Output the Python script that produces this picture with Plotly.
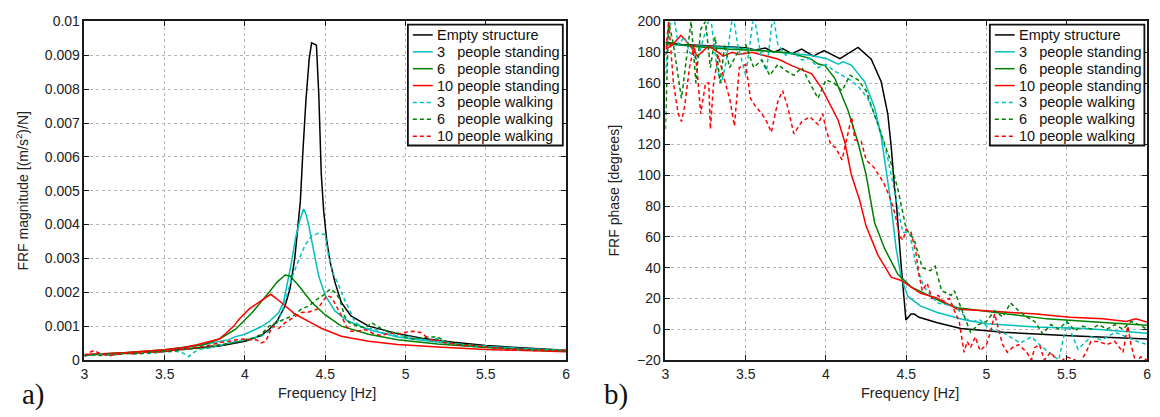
import plotly.graph_objects as go

# ---------------- Magnitude data (a) ----------------
f_mag_empty = [3.0, 3.25, 3.5, 3.7, 3.85, 4.0, 4.1, 4.15, 4.2, 4.25, 4.28, 4.31, 4.33, 4.345, 4.36, 4.38, 4.4,
               4.415, 4.445, 4.46, 4.475, 4.49, 4.51, 4.53, 4.56, 4.6, 4.66, 4.77, 4.93, 5.1, 5.3, 5.5, 5.75, 6.0]
mag_empty = [0.00015, 0.0002, 0.00027, 0.00035, 0.00042, 0.00055, 0.00072, 0.0009, 0.00115, 0.0016, 0.0021,
             0.003, 0.0039, 0.0047, 0.0061, 0.0077, 0.0089, 0.00937, 0.0093, 0.0078, 0.0055, 0.0044, 0.0035,
             0.0029, 0.0023, 0.0017, 0.0013, 0.001, 0.0008, 0.00064, 0.00052, 0.00043, 0.00035, 0.00029]

f_mag_s3 = [3.0, 3.25, 3.5, 3.74, 3.9, 3.94, 4.0, 4.045, 4.1, 4.15, 4.21, 4.24, 4.26, 4.29, 4.315, 4.34, 4.365,
            4.38, 4.396, 4.427, 4.458, 4.5, 4.56, 4.64, 4.77, 4.95, 5.1, 5.3, 5.5, 5.75, 6.0]
mag_s3 = [0.00015, 0.0002, 0.00028, 0.00045, 0.0006, 0.00069, 0.00076, 0.00085, 0.00098, 0.00113, 0.0014, 0.0017,
          0.00216, 0.0029, 0.0036, 0.0041, 0.00446, 0.0043, 0.004, 0.0032, 0.0025, 0.0019, 0.00145, 0.00115,
          0.0009, 0.00068, 0.00058, 0.00048, 0.0004, 0.00033, 0.00029]

f_mag_s6 = [3.0, 3.25, 3.5, 3.74, 3.84, 3.94, 4.045, 4.1, 4.15, 4.2, 4.25, 4.28, 4.334, 4.416, 4.5, 4.6, 4.77,
            4.95, 5.2, 5.5, 5.75, 6.0]
mag_s6 = [0.00015, 0.00021, 0.0003, 0.00045, 0.00062, 0.0009, 0.0014, 0.0017, 0.002, 0.0023, 0.00251, 0.00248,
          0.0022, 0.0017, 0.00133, 0.001, 0.00076, 0.0006, 0.00047, 0.00037, 0.00031, 0.00028]

f_mag_s10 = [3.0, 3.25, 3.5, 3.61, 3.7, 3.78, 3.84, 3.88, 3.93, 3.963, 4.025, 4.07, 4.107, 4.16, 4.2, 4.23, 4.27,
             4.313, 4.396, 4.478, 4.6, 4.77, 4.95, 5.2, 5.5, 5.75, 6.0]
mag_s10 = [0.00016, 0.00021, 0.0003, 0.00036, 0.00045, 0.00055, 0.00062, 0.00078, 0.001, 0.0012, 0.0015,
           0.00165, 0.00178, 0.00194, 0.0018, 0.00168, 0.0015, 0.00135, 0.00114, 0.00093, 0.0007, 0.00055,
           0.00046, 0.00038, 0.00031, 0.00027, 0.00024]

f_mag_w3 = [3.0, 3.05, 3.1, 3.15, 3.2, 3.25, 3.3, 3.35, 3.4, 3.45, 3.5, 3.55, 3.6, 3.65, 3.68, 3.72, 3.78, 3.85,
            3.9, 3.95, 4.0, 4.05, 4.1, 4.15, 4.2, 4.23, 4.29, 4.33, 4.375, 4.416, 4.458, 4.5, 4.52, 4.55, 4.58,
            4.62, 4.65, 4.684, 4.72, 4.76, 4.8, 4.85, 4.9, 4.95, 5.0, 5.05, 5.1, 5.15, 5.2, 5.25, 5.3, 5.35, 5.4,
            5.45, 5.5, 5.55, 5.6, 5.65, 5.7, 5.75, 5.8, 5.85, 5.9, 5.95, 6.0]
mag_w3 = [0.00012, 0.00015, 0.00018, 0.00014, 0.00016, 0.0002, 0.00017, 0.0002, 0.00019, 0.00022, 0.00024,
          0.00026, 0.00024, 0.0001, 0.00022, 0.00032, 0.00035, 0.00045, 0.0005, 0.00055, 0.00058, 0.00065,
          0.0007, 0.00085, 0.0011, 0.0014, 0.0024, 0.0029, 0.0034, 0.00367, 0.00374, 0.0037, 0.0031, 0.00254,
          0.00225, 0.00178, 0.0015, 0.00112, 0.001, 0.0009, 0.00095, 0.0008, 0.0008, 0.0007, 0.00072, 0.00065,
          0.00062, 0.00058, 0.00064, 0.00052, 0.00048, 0.00045, 0.00042, 0.0004, 0.00042, 0.00036, 0.00035,
          0.00038, 0.0003, 0.00032, 0.00028, 0.00031, 0.00027, 0.0003, 0.00028]

f_mag_w6 = [3.0, 3.05, 3.1, 3.15, 3.2, 3.25, 3.3, 3.35, 3.4, 3.45, 3.5, 3.55, 3.6, 3.65, 3.7, 3.75, 3.8, 3.85,
            3.9, 3.95, 4.0, 4.05, 4.1, 4.15, 4.2, 4.25, 4.3, 4.35, 4.4, 4.45, 4.5, 4.53, 4.56, 4.59, 4.62, 4.65,
            4.7, 4.75, 4.79, 4.82, 4.86, 4.9, 4.95, 5.0, 5.05, 5.1, 5.15, 5.2, 5.25, 5.3, 5.35, 5.4, 5.45, 5.5,
            5.55, 5.6, 5.65, 5.7, 5.75, 5.8, 5.85, 5.9, 5.95, 6.0]
mag_w6 = [0.00014, 0.00016, 0.00013, 0.00018, 0.00015, 0.00019, 0.0002, 0.00018, 0.00022, 0.00024, 0.00026,
          0.00025, 0.0003, 0.00032, 0.00035, 0.00036, 0.00042, 0.00045, 0.0005, 0.00052, 0.0006, 0.00065,
          0.00075, 0.001, 0.0011, 0.00122, 0.0013, 0.0015, 0.0016, 0.0018, 0.00195, 0.0021, 0.002, 0.0018,
          0.0013, 0.0011, 0.001, 0.00095, 0.0011, 0.001, 0.0009, 0.00082, 0.0008, 0.00068, 0.00062, 0.00065,
          0.00068, 0.00068, 0.00055, 0.00048, 0.00045, 0.00045, 0.0004, 0.00038, 0.00036, 0.00034, 0.00033,
          0.00033, 0.0003, 0.0003, 0.00028, 0.00029, 0.00027, 0.00026]

f_mag_w10 = [3.0, 3.03, 3.06, 3.1, 3.15, 3.2, 3.25, 3.3, 3.35, 3.4, 3.45, 3.5, 3.55, 3.6, 3.65, 3.7, 3.75, 3.8,
             3.85, 3.9, 3.95, 4.0, 4.03, 4.07, 4.1, 4.13, 4.17, 4.21, 4.25, 4.3, 4.35, 4.4, 4.45, 4.48, 4.51,
             4.54, 4.57, 4.6, 4.63, 4.66, 4.7, 4.75, 4.8, 4.85, 4.9, 4.95, 5.0, 5.05, 5.1, 5.15, 5.2, 5.25, 5.3,
             5.35, 5.4, 5.45, 5.5, 5.55, 5.6, 5.65, 5.7, 5.75, 5.8, 5.85, 5.9, 5.95, 6.0]
mag_w10 = [0.0001, 0.00022, 0.00028, 0.00018, 0.00012, 0.00016, 0.0002, 0.00018, 0.00022, 0.00024, 0.00022,
           0.00025, 0.00028, 0.0003, 0.00034, 0.00036, 0.0004, 0.00046, 0.00052, 0.00055, 0.0006, 0.00062,
           0.0006, 0.0006, 0.0005, 0.00055, 0.001, 0.00093, 0.0011, 0.00125, 0.0014, 0.00142, 0.0015, 0.0017,
           0.0019, 0.00185, 0.0016, 0.00131, 0.001, 0.00085, 0.00085, 0.0009, 0.00078, 0.00072, 0.0008,
           0.00075, 0.00082, 0.00085, 0.0008, 0.0006, 0.00058, 0.0005, 0.00048, 0.00042, 0.00044, 0.0004,
           0.00038, 0.00036, 0.00035, 0.0003, 0.00033, 0.0003, 0.00028, 0.0003, 0.00026, 0.00028, 0.0003]

# ---------------- Phase data (b) ----------------
f_ph_empty = [3.0, 3.1, 3.2, 3.3, 3.4, 3.5, 3.56, 3.623, 3.674, 3.73, 3.787, 3.849, 3.921, 3.988, 4.087, 4.2,
              4.282, 4.344, 4.385, 4.406, 4.427, 4.437, 4.468, 4.488, 4.498, 4.53, 4.55, 4.58, 4.694, 4.84,
              5.107, 5.52, 6.0]
ph_empty = [186.5, 185, 184.5, 184, 183.5, 183, 181.5, 182.7, 180, 182.3, 179, 182, 177.5, 181, 175.8, 183.1,
            175.4, 160.8, 140, 119, 92, 83.7, 42, 15, 6, 9.8, 9.8, 7.7, 4.2, 0.4, -2, -4.2, -6.4]

f_ph_s3 = [3.0, 3.2, 3.4, 3.6, 3.8, 3.9, 4.0, 4.076, 4.107, 4.158, 4.241, 4.303, 4.344, 4.375, 4.396, 4.406,
           4.437, 4.468, 4.51, 4.59, 4.694, 4.86, 5.0, 5.31, 5.62, 5.8, 6.0]
ph_s3 = [185, 184, 183, 181, 179, 178, 176, 172.3, 173.8, 171.7, 160.8, 144, 125.4, 104.6, 88, 80, 52.5, 33.8,
         21.3, 15, 10.8, 6.2, 3.5, 1.4, 0.4, -1, -2.7]

f_ph_s6 = [3.0, 3.2, 3.4, 3.6, 3.767, 3.9, 3.952, 3.994, 4.056, 4.138, 4.2, 4.25, 4.303, 4.365, 4.447, 4.53,
           4.633, 4.736, 4.818, 5.065, 5.375, 5.68, 6.0]
ph_s6 = [186, 183.5, 182, 181, 179.6, 176, 172.3, 171.3, 162.9, 142, 121.3, 100.4, 69.2, 52.5, 35.8, 27.5, 22.3,
         17, 14, 10.8, 6.7, 4.6, 2.5]

f_ph_s10 = [3.0, 3.045, 3.097, 3.15, 3.2, 3.27, 3.334, 3.36, 3.416, 3.458, 3.54, 3.623, 3.705, 3.787, 3.87,
            3.911, 3.973, 4.035, 4.076, 4.118, 4.158, 4.21, 4.25, 4.323, 4.406, 4.468, 4.59, 4.694, 4.818, 5.0,
            5.31, 5.52, 5.725, 5.87, 5.93, 6.0]
ph_s10 = [182, 184.8, 191, 184.8, 177.5, 184.2, 179.6, 177.5, 180, 178.5, 180, 177.5, 175.4, 171.3, 167.5, 166,
          156.7, 144.2, 135.8, 121.3, 100.4, 83.8, 67, 48.3, 33.8, 31.7, 23.3, 20.2, 12.9, 11.9, 9.8, 7.7, 6.7,
          5, 6.7, 4.6]

f_ph_w3 = [3.0, 3.02, 3.05, 3.08, 3.12, 3.15, 3.2, 3.25, 3.28, 3.32, 3.35, 3.38, 3.42, 3.45, 3.5, 3.52, 3.55,
           3.6, 3.63, 3.67, 3.7, 3.75, 3.8, 3.85, 3.9, 3.95, 4.0, 4.05, 4.1, 4.15, 4.2, 4.26, 4.3, 4.344, 4.385,
           4.416, 4.447, 4.478, 4.52, 4.56, 4.61, 4.694, 4.8, 4.9, 4.96, 5.02, 5.1, 5.21, 5.28, 5.34, 5.45, 5.5,
           5.57, 5.65, 5.72, 5.8, 5.87, 5.94, 6.0]
ph_w3 = [165, 195, 205, 185, 190, 180, 175, 195, 205, 170, 160, 175, 205, 185, 165, 180, 205, 175, 168, 205,
         185, 178, 180, 175, 176, 170, 172, 168, 165, 162, 158, 150, 140, 127.5, 111, 96, 79.6, 63, 62.9, 42,
         27.5, 17, 15, 4.6, 6, 0, -2, -9, -5, -11, -20, 4.6, -13, -5, -7, -2, -5, -8, -10]

f_ph_w6 = [3.0, 3.02, 3.05, 3.08, 3.1, 3.13, 3.16, 3.19, 3.22, 3.25, 3.28, 3.31, 3.34, 3.37, 3.4, 3.45, 3.5,
           3.55, 3.6, 3.65, 3.7, 3.75, 3.8, 3.85, 3.9, 3.95, 4.0, 4.05, 4.1, 4.15, 4.2, 4.25, 4.3, 4.35, 4.4,
           4.45, 4.5, 4.55, 4.6, 4.65, 4.68, 4.72, 4.78, 4.8, 4.85, 4.9, 4.95, 5.0, 5.05, 5.1, 5.15, 5.2, 5.25,
           5.3, 5.35, 5.4, 5.45, 5.5, 5.55, 5.6, 5.65, 5.7, 5.75, 5.8, 5.85, 5.9, 5.95, 6.0]
ph_w6 = [130, 200, 185, 165, 150, 175, 200, 160, 195, 200, 170, 190, 160, 185, 170, 180, 185, 170, 175, 165,
         172, 168, 165, 170, 160, 150, 162, 160, 155, 165, 162, 155, 140, 125, 110, 90, 65, 58, 40, 38, 41, 25,
         22, 25, 12, -2, 3, 5, 12, 8, 17, 12, 8, 5, -3, 3, 0, 5, -1, 2, 0, 3, 0, 3, 0, 5, 3, 0]

f_ph_w10 = [3.0, 3.02, 3.05, 3.08, 3.1, 3.12, 3.15, 3.18, 3.2, 3.22, 3.25, 3.27, 3.28, 3.3, 3.33, 3.36, 3.4,
            3.43, 3.46, 3.5, 3.53, 3.56, 3.6, 3.63, 3.66, 3.7, 3.73, 3.76, 3.8, 3.85, 3.9, 3.95, 3.98, 4.0,
            4.03, 4.06, 4.1, 4.13, 4.16, 4.18, 4.22, 4.25, 4.3, 4.33, 4.36, 4.4, 4.43, 4.46, 4.48, 4.5, 4.53,
            4.56, 4.58, 4.6, 4.63, 4.66, 4.7, 4.73, 4.77, 4.8, 4.83, 4.86, 4.88, 4.9, 4.93, 4.96, 5.0, 5.03,
            5.05, 5.08, 5.1, 5.13, 5.16, 5.2, 5.25, 5.28, 5.3, 5.33, 5.36, 5.4, 5.45, 5.5, 5.55, 5.58, 5.62,
            5.65, 5.7, 5.75, 5.8, 5.85, 5.88, 5.9, 5.93, 5.96, 6.0]
ph_w10 = [178, 200, 160, 140, 135, 145, 170, 185, 165, 140, 160, 160, 130, 160, 178, 165, 150, 132, 170, 172,
          150, 145, 140, 135, 128, 148, 155, 145, 127, 135, 138, 133, 140, 130, 120, 118, 110, 125, 138, 123,
          122, 110, 105, 100, 95, 85, 75, 60, 58, 65, 63, 50, 35, 25, 30, 20, 22, 18, 20, 12, 5, -15, -8, -12,
          -5, -14, -10, 0, 10, -2, -10, -15, -12, -10, -15, -20, -12, -10, -20, -15, -22, -18, -20, -22, -15,
          -8, -8, -10, -8, -15, 2, -10, -22, -18, -20]

# ---------------- Labels / ticks ----------------
legend_names = ["Empty structure", "3\u00a0\u00a0\u00a0people standing", "6\u00a0\u00a0\u00a0people standing",
                "10 people standing", "3\u00a0\u00a0\u00a0people walking", "6\u00a0\u00a0\u00a0people walking",
                "10 people walking"]
x_tickvals = [3, 3.5, 4, 4.5, 5, 5.5, 6]
x_ticktext = ["3", "3.5", "4", "4.5", "5", "5.5", "6"]
mag_tickvals = [0, 0.001, 0.002, 0.003, 0.004, 0.005, 0.006, 0.007, 0.008, 0.009, 0.01]
mag_ticktext = ["0", "0.001", "0.002", "0.003", "0.004", "0.005", "0.006", "0.007", "0.008", "0.009", "0.01"]
ph_tickvals = [-20, 0, 20, 40, 60, 80, 100, 120, 140, 160, 180, 200]
ph_ticktext = ["\u221220", "0", "20", "40", "60", "80", "100", "120", "140", "160", "180", "200"]

colors = ["#000000", "#00bfbf", "#008000", "#ff0000", "#00bfbf", "#008000", "#ff0000"]
dashes = ["solid", "solid", "solid", "solid", "4px,3px", "4px,3px", "4px,3px"]

mag_sets = [(f_mag_empty, mag_empty), (f_mag_s3, mag_s3), (f_mag_s6, mag_s6), (f_mag_s10, mag_s10),
            (f_mag_w3, mag_w3), (f_mag_w6, mag_w6), (f_mag_w10, mag_w10)]
ph_sets = [(f_ph_empty, ph_empty), (f_ph_s3, ph_s3), (f_ph_s6, ph_s6), (f_ph_s10, ph_s10),
           (f_ph_w3, ph_w3), (f_ph_w6, ph_w6), (f_ph_w10, ph_w10)]

FONT = "Liberation Sans, Arial, sans-serif"
SERIF = "Liberation Serif, Times New Roman, serif"
W, H = 1160, 417


def px(x):
    return x / W


def py(y):
    return 1 - y / H


fig = go.Figure()
for i, (fx, vy) in enumerate(mag_sets):
    fig.add_trace(go.Scatter(x=fx, y=vy, mode="lines", name=legend_names[i], showlegend=False,
                             line=dict(color=colors[i], width=1.5, dash=dashes[i]),
                             xaxis="x", yaxis="y"))
for i, (fx, vy) in enumerate(ph_sets):
    fig.add_trace(go.Scatter(x=fx, y=vy, mode="lines", name=legend_names[i], showlegend=False,
                             line=dict(color=colors[i], width=1.5, dash=dashes[i]),
                             xaxis="x2", yaxis="y2"))

axis_common = dict(showline=True, linecolor="#1a1a1a", linewidth=1.5, mirror="ticks", ticks="inside",
                   ticklen=5, tickcolor="#1a1a1a", showgrid=True, gridcolor="#b5b5b5", griddash="dot",
                   gridwidth=1, zeroline=False, tickfont=dict(family=FONT, size=14, color="#222"))

# legend boxes drawn as paper-anchored shapes + text (MATLAB-style tight legend)
shapes = []
annotations = []
legend_boxes = [(406.7, 562.7), (992.7, 1148.3)]
row_top, row_gap = 28.0, 17.55
for (bx0, bx1) in legend_boxes:
    shapes.append(dict(type="rect", xref="paper", yref="paper", x0=px(bx0), x1=px(bx1),
                       y0=py(143), y1=py(17.3), line=dict(color="#111", width=1.8),
                       fillcolor="white", layer="above"))
    for i, name in enumerate(legend_names):
        yy = row_top + i * row_gap
        shapes.append(dict(type="line", xref="paper", yref="paper", x0=px(bx0 + 5), x1=px(bx0 + 25),
                           y0=py(yy), y1=py(yy), layer="above",
                           line=dict(color=colors[i], width=1.5, dash=dashes[i])))
        annotations.append(dict(text=name, x=px(bx0 + 27), y=py(yy), xref="paper", yref="paper",
                                xanchor="left", yanchor="middle", showarrow=False,
                                font=dict(family=FONT, size=14.5, color="#111")))

annotations += [
    dict(text="FRF magnitude [(m/s<sup>2</sup>)/N]", x=px(18), y=py(190), xref="paper", yref="paper",
         xanchor="center", yanchor="middle", textangle=-90, showarrow=False,
         font=dict(family=FONT, size=14, color="#222")),
    dict(text="FRF phase [degrees]", x=px(614), y=py(190), xref="paper", yref="paper",
         xanchor="center", yanchor="middle", textangle=-90, showarrow=False,
         font=dict(family=FONT, size=14, color="#222")),
    dict(text="Frequency [Hz]", x=px(325), y=py(400), xref="paper", yref="paper",
         xanchor="center", yanchor="middle", showarrow=False, font=dict(family=FONT, size=14.5, color="#222")),
    dict(text="Frequency [Hz]", x=px(912), y=py(400), xref="paper", yref="paper",
         xanchor="center", yanchor="middle", showarrow=False, font=dict(family=FONT, size=14.5, color="#222")),
    dict(text="a)", x=px(30), y=py(402), xref="paper", yref="paper", xanchor="center", yanchor="middle",
         showarrow=False, font=dict(family=SERIF, size=29, color="#111")),
    dict(text="b)", x=px(616), y=py(402), xref="paper", yref="paper", xanchor="center", yanchor="middle",
         showarrow=False, font=dict(family=SERIF, size=29, color="#111")),
]

fig.update_layout(
    width=W, height=H, margin=dict(l=0, r=0, t=0, b=0),
    paper_bgcolor="white", plot_bgcolor="white",
    font=dict(family=FONT, size=14, color="#222"),
    showlegend=False,
    xaxis=dict(domain=[px(81), px(566)], range=[3, 6], tickvals=x_tickvals, ticktext=x_ticktext,
               anchor="y", **axis_common),
    yaxis=dict(domain=[py(366), py(14)], range=[0, 0.01], tickvals=mag_tickvals, ticktext=mag_ticktext,
               anchor="x", **axis_common),
    xaxis2=dict(domain=[px(666), px(1151)], range=[3, 6], tickvals=x_tickvals, ticktext=x_ticktext,
                anchor="y2", **axis_common),
    yaxis2=dict(domain=[py(366), py(14)], range=[-20, 200], tickvals=ph_tickvals, ticktext=ph_ticktext,
                anchor="x2", **axis_common),
    shapes=shapes,
    annotations=annotations,
)

fig.write_html("out.html")
